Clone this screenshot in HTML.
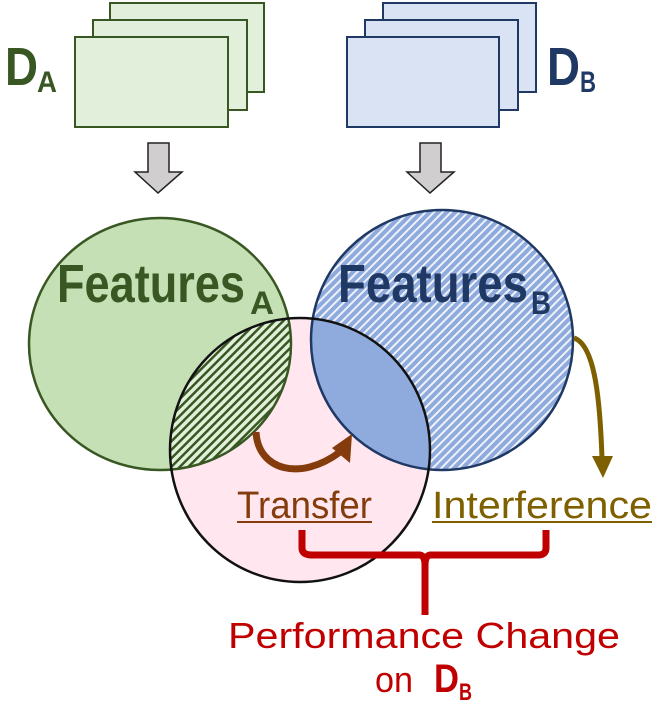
<!DOCTYPE html>
<html><head><meta charset="utf-8"><style>
html,body{margin:0;padding:0;background:#fff;}
svg{display:block;}
text{font-family:"Liberation Sans",sans-serif;}
</style></head><body>
<svg width="659" height="704" viewBox="0 0 659 704" xmlns="http://www.w3.org/2000/svg">
<defs>
<pattern id="hb" patternUnits="userSpaceOnUse" width="6" height="6" patternTransform="rotate(45)">
<rect width="6" height="6" fill="#8faadc"/><rect width="2" height="6" fill="#eef2fa"/>
</pattern>
<pattern id="hg" patternUnits="userSpaceOnUse" width="6" height="6" patternTransform="rotate(45)">
<rect width="6" height="6" fill="#e2f0d9"/><rect width="2.5" height="6" fill="#385723"/>
</pattern>
<clipPath id="cp"><ellipse cx="300" cy="450" rx="130" ry="132"/></clipPath>
</defs>
<rect x="110" y="3" width="154" height="89" fill="#e2efda" stroke="#385723" stroke-width="2"/>
<rect x="93" y="20" width="154" height="90" fill="#e2efda" stroke="#385723" stroke-width="2"/>
<rect x="75" y="37" width="153" height="90" fill="#e2efda" stroke="#385723" stroke-width="2"/>
<rect x="383" y="3" width="153" height="89" fill="#dae3f3" stroke="#1f3864" stroke-width="2"/>
<rect x="365" y="20" width="153" height="90" fill="#dae3f3" stroke="#1f3864" stroke-width="2"/>
<rect x="347" y="37" width="152" height="90" fill="#dae3f3" stroke="#1f3864" stroke-width="2"/>
<text x="5" y="85" font-size="54" font-weight="bold" fill="#385723" textLength="33" lengthAdjust="spacingAndGlyphs">D</text>
<text x="37" y="92" font-size="30" font-weight="bold" fill="#385723" textLength="20" lengthAdjust="spacingAndGlyphs">A</text>
<text x="547" y="85" font-size="54" font-weight="bold" fill="#1f3864" textLength="33" lengthAdjust="spacingAndGlyphs">D</text>
<text x="580" y="92" font-size="30" font-weight="bold" fill="#1f3864" textLength="16" lengthAdjust="spacingAndGlyphs">B</text>
<polygon points="148,143 169,143 169,172 182,172 158,193 135,172 148,172" fill="#d0cece" stroke="#222" stroke-width="1.5"/>
<polygon points="420,143 441,143 441,172 454,172 430,193 407,172 420,172" fill="#d0cece" stroke="#222" stroke-width="1.5"/>
<ellipse cx="160" cy="344" rx="131" ry="126" fill="#c5e0b4" stroke="#385723" stroke-width="2.5"/>
<ellipse cx="442" cy="340" rx="131" ry="130" fill="url(#hb)" stroke="#1f3864" stroke-width="2.5"/>
<ellipse cx="300" cy="450" rx="130" ry="132" fill="#ffe6ef"/>
<g clip-path="url(#cp)">
<ellipse cx="160" cy="344" rx="131" ry="126" fill="url(#hg)" stroke="#385723" stroke-width="2.5"/>
<ellipse cx="442" cy="340" rx="131" ry="130" fill="#8faadc" stroke="#1f3864" stroke-width="2.5"/>
</g>
<ellipse cx="300" cy="450" rx="130" ry="132" fill="none" stroke="#111" stroke-width="2.5"/>
<text x="57" y="302" font-size="54" font-weight="bold" fill="#385723" textLength="188" lengthAdjust="spacingAndGlyphs">Features</text>
<text x="250" y="314" font-size="32" font-weight="bold" fill="#385723" textLength="24" lengthAdjust="spacingAndGlyphs">A</text>
<text x="338" y="302" font-size="54" font-weight="bold" fill="#1f3864" textLength="190" lengthAdjust="spacingAndGlyphs">Features</text>
<text x="531" y="314" font-size="32" font-weight="bold" fill="#1f3864" textLength="20" lengthAdjust="spacingAndGlyphs">B</text>
<path d="M256,432 C258,470 300,482 340,452" fill="none" stroke="#843c0c" stroke-width="7"/>
<polygon points="352,434 350,463 332,448" fill="#843c0c"/>
<path d="M574,338 C595,345 600,400 602,458" fill="none" stroke="#7f6000" stroke-width="5"/>
<polygon points="592,456 613,456 603,478" fill="#7f6000"/>
<text x="237" y="518" font-size="38" fill="#843c0c" textLength="135" lengthAdjust="spacingAndGlyphs">Transfer</text>
<rect x="237" y="521" width="135" height="2" fill="#843c0c"/>
<text x="432" y="518" font-size="38" fill="#7f6000" textLength="220" lengthAdjust="spacingAndGlyphs">Interference</text>
<rect x="432" y="521" width="220" height="2" fill="#7f6000"/>
<path d="M302,530 L302,548 Q302,555 312,555 L420,555 Q425,556 425,565 L425,615 M425,565 Q425,556 430,555 L538,555 Q546,555 546,548 L546,530" fill="none" stroke="#c00000" stroke-width="7"/>
<text x="228" y="648" font-size="36" fill="#c00000" textLength="392" lengthAdjust="spacingAndGlyphs">Performance Change</text>
<text x="375" y="692" font-size="36" fill="#c00000" textLength="38" lengthAdjust="spacingAndGlyphs">on</text>
<text x="434" y="692" font-size="40" font-weight="bold" fill="#c00000" textLength="25" lengthAdjust="spacingAndGlyphs">D</text>
<text x="459" y="700" font-size="24" font-weight="bold" fill="#c00000" textLength="13" lengthAdjust="spacingAndGlyphs">B</text>
</svg>
</body></html>
